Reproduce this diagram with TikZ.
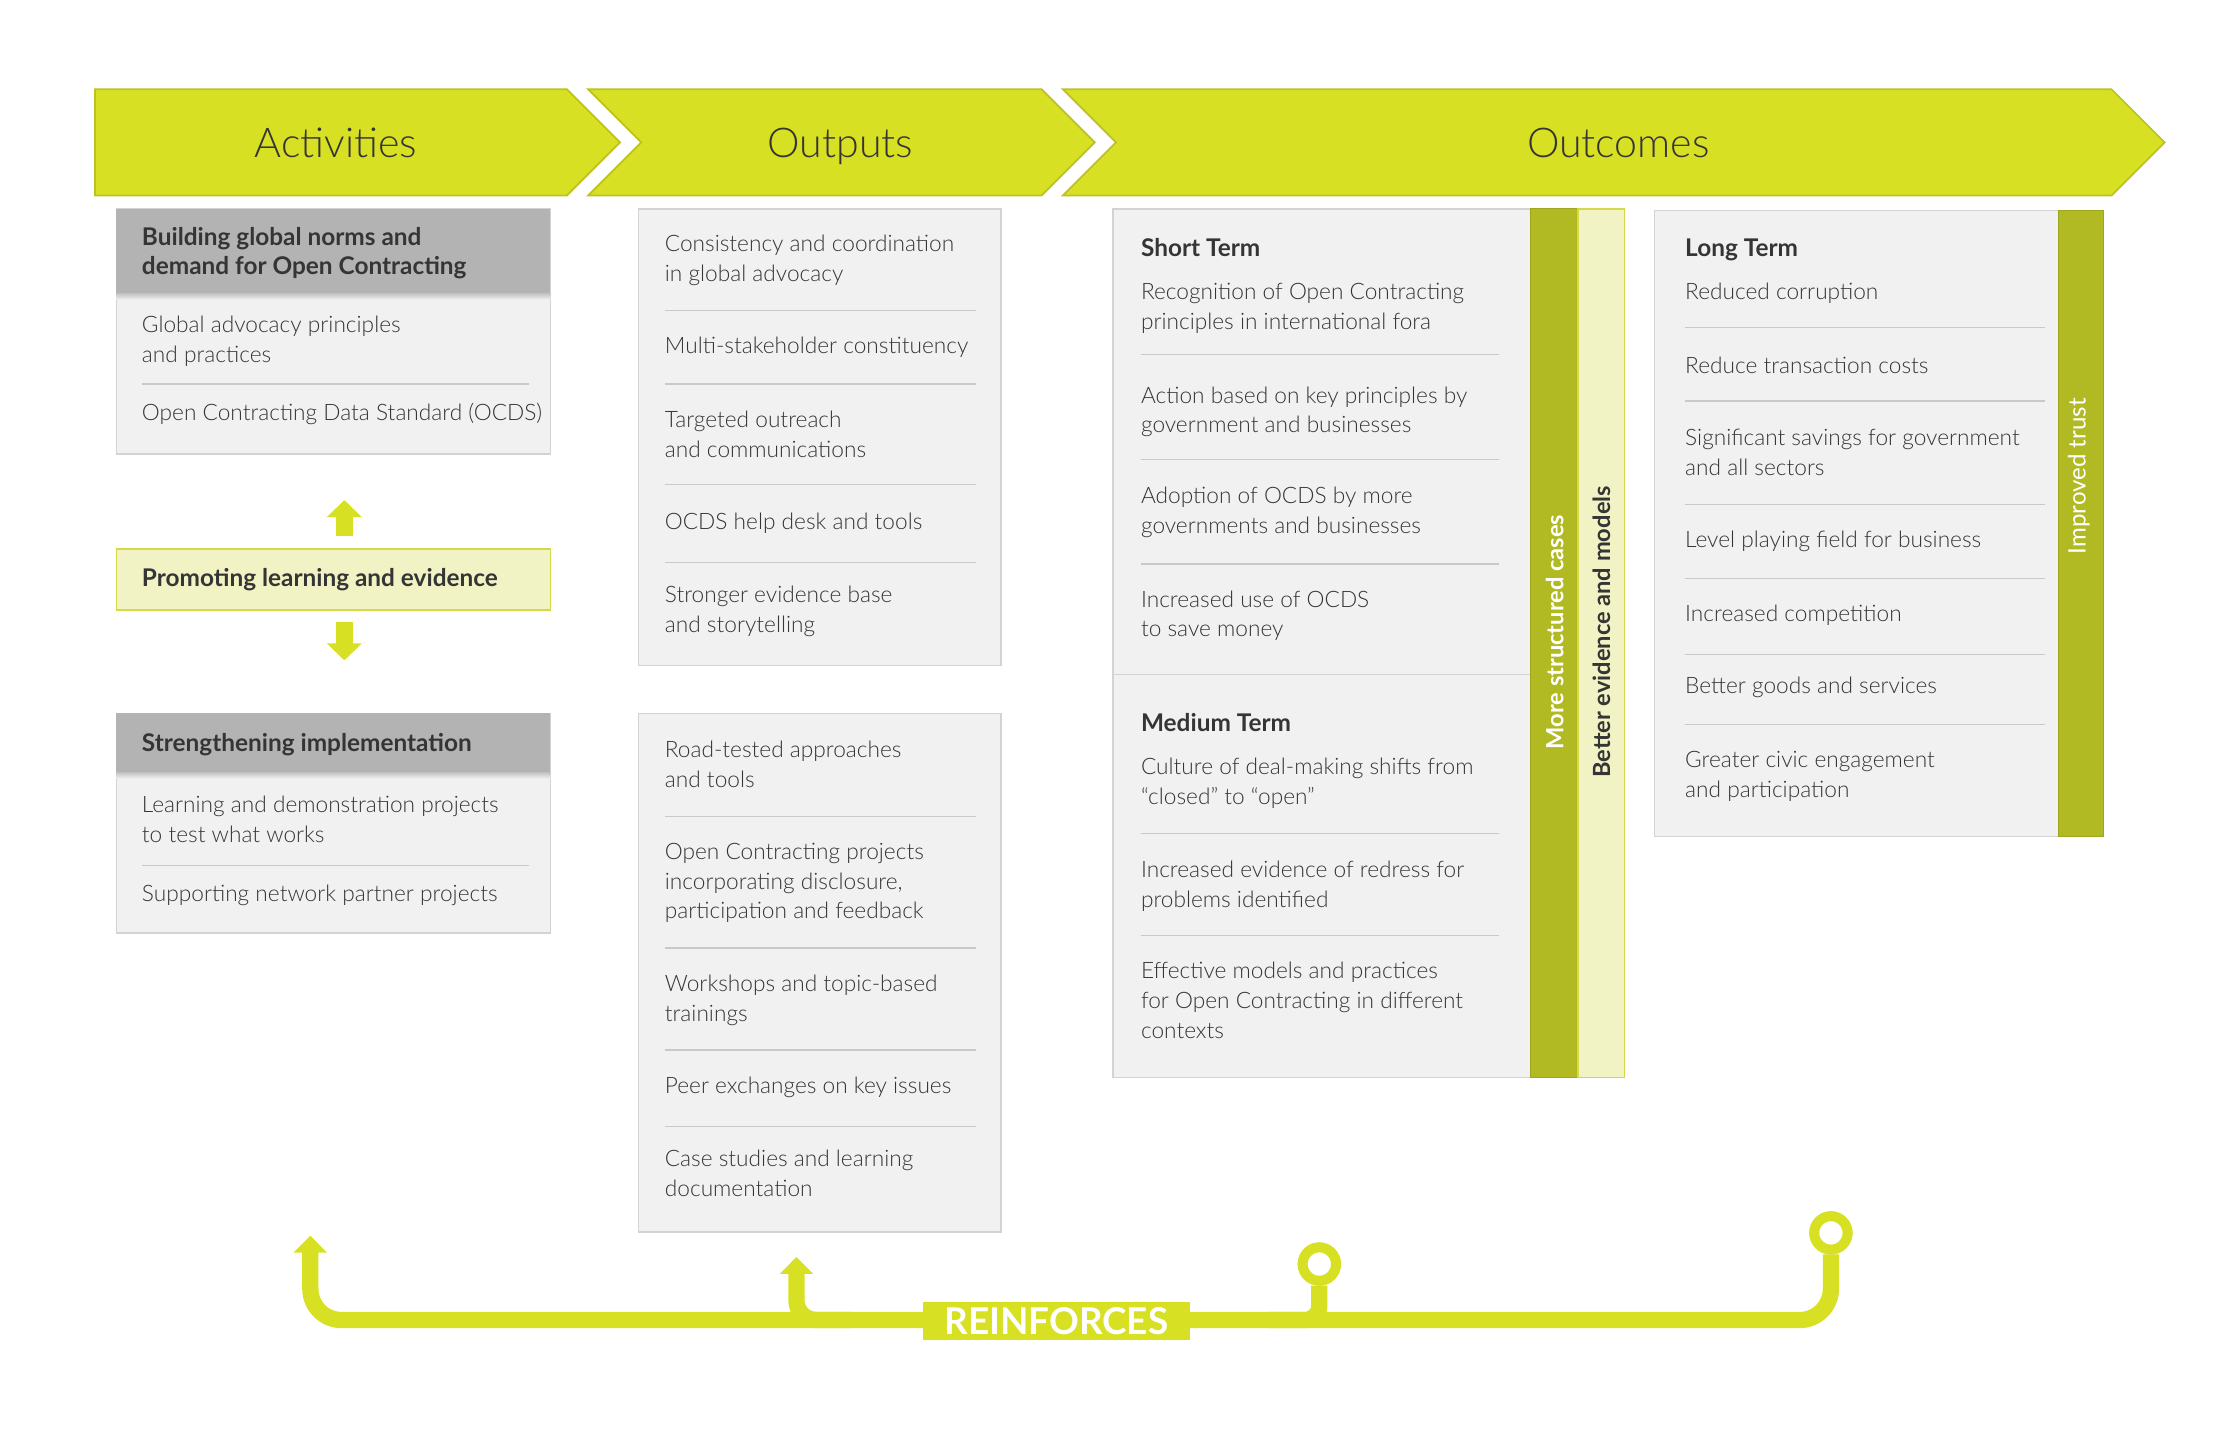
\documentclass[tikz,border=0pt]{standalone}
\usepackage{fontspec}
\setmainfont{Lato}[UprightFont={* Light},BoldFont={* Bold}]
\newfontfamily\latoreg{Lato}
\usetikzlibrary{arrows.meta}

\definecolor{lime}{HTML}{D8E024}
\definecolor{limeedge}{HTML}{BCC21F}
\definecolor{olive}{HTML}{B1B923}
\definecolor{oliveedge}{HTML}{9EA51E}
\definecolor{pale}{HTML}{F1F3C4}
\definecolor{paleedge}{HTML}{D2DA4A}
\definecolor{hdrgray}{HTML}{B3B3B3}
\definecolor{boxgray}{HTML}{F1F1F1}
\definecolor{boxedge}{HTML}{D3D3D3}
\definecolor{rulegray}{HTML}{C9C9C9}
\definecolor{ink}{HTML}{353535}

\newcommand\fsBody{\fontsize{16}{21}\selectfont}
\newcommand\fsHead{\bfseries\fontsize{17.2}{21}\selectfont}
\newcommand\fsTitle{\fontsize{29}{34}\selectfont}
\newcommand\fsBar{\bfseries\fontsize{16.7}{20}\selectfont}
\newcommand\fsTrust{\latoreg\fontsize{17}{20}\selectfont}
\newcommand\fsTag{\bfseries\fontsize{26}{27}\selectfont}

\begin{document}
\begin{tikzpicture}[x=1pt,y=-1pt,
  chev/.style={fill=lime, draw=limeedge, line width=1.2, line join=miter},
  title/.style={anchor=base, inner sep=0, text=ink, font=\fsTitle},
  panel/.style={draw=boxedge, fill=boxgray, line width=0.9, inner sep=0, anchor=north west},
  hdrband/.style={fill=hdrgray, inner sep=0, anchor=north west},
  paleband/.style={fill=pale, draw=paleedge, line width=0.9, inner sep=0, anchor=north west},
  bar/.style={fill=olive, draw=oliveedge, line width=0.6, inner sep=0, anchor=north west},
  item/.style={anchor=base west, align=left, inner sep=0, text=ink, font=\fsBody},
  head/.style={anchor=base west, align=left, inner sep=0, text=ink, font=\fsHead},
  bartext/.style={rotate=90, inner sep=0, font=\fsBar},
  sep/.style={draw=rulegray, line width=0.9},
  blockarrow/.style={draw=lime, line width=12, -{Triangle[width=24,length=12]}},
  loopline/.style={draw=lime, line width=11.5},
  looptip/.style={-{Triangle[width=23,length=12]}},
  ring/.style={circle, draw=lime, fill=white, line width=7, minimum size=23.5, inner sep=0},
  ringface/.style={draw=lime, fill=white, line width=7},
  tag/.style={fill=lime, text=white, minimum width=189, minimum height=26.5, inner sep=0, font=\fsTag},
  hdrshade/.style={top color=black!22, bottom color=boxgray}
]
\fill[white] (0,0) rectangle (1568,1017);
\useasboundingbox (0,0) rectangle (1568,1017);

% ---- stage banner ----
\filldraw[chev] (67,63) -- (400,63) -- (437.5,100.5) -- (400,138) -- (67,138) -- cycle;
\filldraw[chev] (415,63) -- (735,63) -- (772.5,100.5) -- (735,138) -- (415,138) -- (452.5,100.5) -- cycle;
\filldraw[chev] (750,63) -- (1490,63) -- (1527.5,100.5) -- (1490,138) -- (750,138) -- (787.5,100.5) -- cycle;
\node[title] (tAct) at (237,111) {Activities};
\node[title] (tOut) at (593,111) {Outputs};
\node[title] (tOutc) at (1142,111) {Outcomes};

% ---- activities (multi-line texts are placed by the baseline of their last line) ----
\node[panel, minimum width=306, minimum height=173] (actA) at (82,147) {};
\node[hdrband, minimum width=306, minimum height=60] (actAh) at (82,147) {};
\shade[hdrshade] (actAh.south west) rectangle ([yshift=-4pt]actAh.south east);
\node[head] (actAht) at (100,194) {Building global norms and\\demand for Open Contracting};
\node[item] (actA1) at (100,255.5) {Global advocacy principles\\and practices};
\draw[sep] (100,271) -- (373,271);
\node[item] (actA2) at (100,296.5) {Open Contracting Data Standard (OCDS)};

\node[paleband, minimum width=306, minimum height=43] (promo) at (82,387) {};
\node[head] (promot) at (100,414) {Promoting learning and evidence};

\node[panel, minimum width=306, minimum height=155] (actB) at (82,503) {};
\node[hdrband, minimum width=306, minimum height=42] (actBh) at (82,503) {};
\shade[hdrshade] (actBh.south west) rectangle ([yshift=-4pt]actBh.south east);
\node[head] (actBht) at (100,530) {Strengthening implementation};
\node[item] (actB1) at (100,594.5) {Learning and demonstration projects\\to test what works};
\draw[sep] (100,611) -- (373,611);
\node[item] (actB2) at (100,636.5) {Supporting network partner projects};

\coordinate (ax) at (243,0);
\draw[blockarrow, shorten <=8.5, shorten >=32] (promo.north -| ax) -- (actA.south -| ax);
\draw[blockarrow, shorten <=8, shorten >=37] (promo.south -| ax) -- (actB.north -| ax);

% ---- outputs ----
\node[panel, minimum width=256, minimum height=322] (outA) at (450,147) {};
\node[item] (outA1) at (469,198.5) {Consistency and coordination\\in global advocacy};
\draw[sep] (469,219) -- (689,219);
\node[item] (outA2) at (469,249.5) {Multi-stakeholder constituency};
\draw[sep] (469,271) -- (689,271);
\node[item] (outA3) at (469,322.5) {Targeted outreach\\and communications};
\draw[sep] (469,342) -- (689,342);
\node[item] (outA4) at (469,373.5) {OCDS help desk and tools};
\draw[sep] (469,397) -- (689,397);
\node[item] (outA5) at (469,446.5) {Stronger evidence base\\and storytelling};

\node[panel, minimum width=256, minimum height=366] (outB) at (450,503) {};
\node[item] (outB1) at (469,555.5) {Road-tested approaches\\and tools};
\draw[sep] (469,576) -- (689,576);
\node[item] (outB2) at (469,648.5) {Open Contracting projects\\incorporating disclosure,\\participation and feedback};
\draw[sep] (469,669) -- (689,669);
\node[item] (outB3) at (469,720.5) {Workshops and topic-based\\trainings};
\draw[sep] (469,741) -- (689,741);
\node[item] (outB4) at (469,771.5) {Peer exchanges on key issues};
\draw[sep] (469,795) -- (689,795);
\node[item] (outB5) at (469,844.5) {Case studies and learning\\documentation};

% ---- outcomes: short and medium term ----
\node[panel, minimum width=295, minimum height=613] (outSM) at (785,147) {};
\draw[draw=boxedge, line width=0.9] (outSM.west |- 0,476) -- (1080,476);
\node[bar, minimum width=33, minimum height=613] (barMore) at (1080,147) {};
\node[paleband, minimum width=33, minimum height=613] (barBetter) at (1113,147) {};
\node[bartext, text=white] (barMoreT) at (1097,446) {More structured cases};
\node[bartext, text=ink] (barBetterT) at (1130,446) {Better evidence and models};

\node[head] (shortT) at (805,181) {Short Term};
\node[item] (st1) at (805,232.5) {Recognition of Open Contracting\\principles in international fora};
\draw[sep] (805,250) -- (1058,250);
\node[item] (st2) at (805,305.5) {Action based on key principles by\\government and businesses};
\draw[sep] (805,324) -- (1058,324);
\node[item] (st3) at (805,376.5) {Adoption of OCDS by more\\governments and businesses};
\draw[sep] (805,398) -- (1058,398);
\node[item] (st4) at (805,449.5) {Increased use of OCDS\\to save money};

\node[head] (medT) at (805,516) {Medium Term};
\node[item] (mt1) at (805,567.5) {Culture of deal-making shifts from\\“closed” to “open”};
\draw[sep] (805,588) -- (1058,588);
\node[item] (mt2) at (805,640.5) {Increased evidence of redress for\\problems identified};
\draw[sep] (805,660) -- (1058,660);
\node[item] (mt3) at (805,732.5) {Effective models and practices\\for Open Contracting in different\\contexts};

% ---- outcomes: long term ----
\node[panel, minimum width=285, minimum height=442] (outL) at (1167,148) {};
\node[bar, minimum width=32, minimum height=442] (barTrust) at (1452,148) {};
\node[rotate=90, inner sep=0, text=white, font=\fsTrust] (barTrustT) at (1467,336) {Improved trust};

\node[head] (longT) at (1189,181) {Long Term};
\node[item] (lt1) at (1189,211.5) {Reduced corruption};
\draw[sep] (1189,231) -- (1443,231);
\node[item] (lt2) at (1189,263.5) {Reduce transaction costs};
\draw[sep] (1189,283) -- (1443,283);
\node[item] (lt3) at (1189,335.5) {Significant savings for government\\and all sectors};
\draw[sep] (1189,356) -- (1443,356);
\node[item] (lt4) at (1189,386.5) {Level playing field for business};
\draw[sep] (1189,408) -- (1443,408);
\node[item] (lt5) at (1189,438.5) {Increased competition};
\draw[sep] (1189,462) -- (1443,462);
\node[item] (lt6) at (1189,489.5) {Better goods and services};
\draw[sep] (1189,511) -- (1443,511);
\node[item] (lt7) at (1189,562.5) {Greater civic engagement\\and participation};

% ---- reinforcing loop ----
\node[ring] (ringM) at (931,892) {};
\node[ring] (ringR) at (1292,870) {};
\coordinate (tipL) at (219,872);
\coordinate (tipM) at (562,887);
\coordinate (tipMr) at (600,931.5);
\coordinate (ringMl) at (895,931.5);
\coordinate (base) at (0,931.5);
\draw[loopline, looptip, rounded corners=22] (ringR.south) -- (ringR |- base) -- (tipL |- base) -- (tipL);
\draw[loopline, looptip, rounded corners=14] (tipMr) -- (tipM |- base) -- (tipM);
\draw[loopline, rounded corners=10] (ringM.south) -- (ringM |- base) -- (ringMl);
\draw[ringface] (ringM) circle (11.75);
\draw[ringface] (ringR) circle (11.75);
\node[tag] (reinf) at (745.5,932) {REINFORCES};
\end{tikzpicture}
\end{document}
